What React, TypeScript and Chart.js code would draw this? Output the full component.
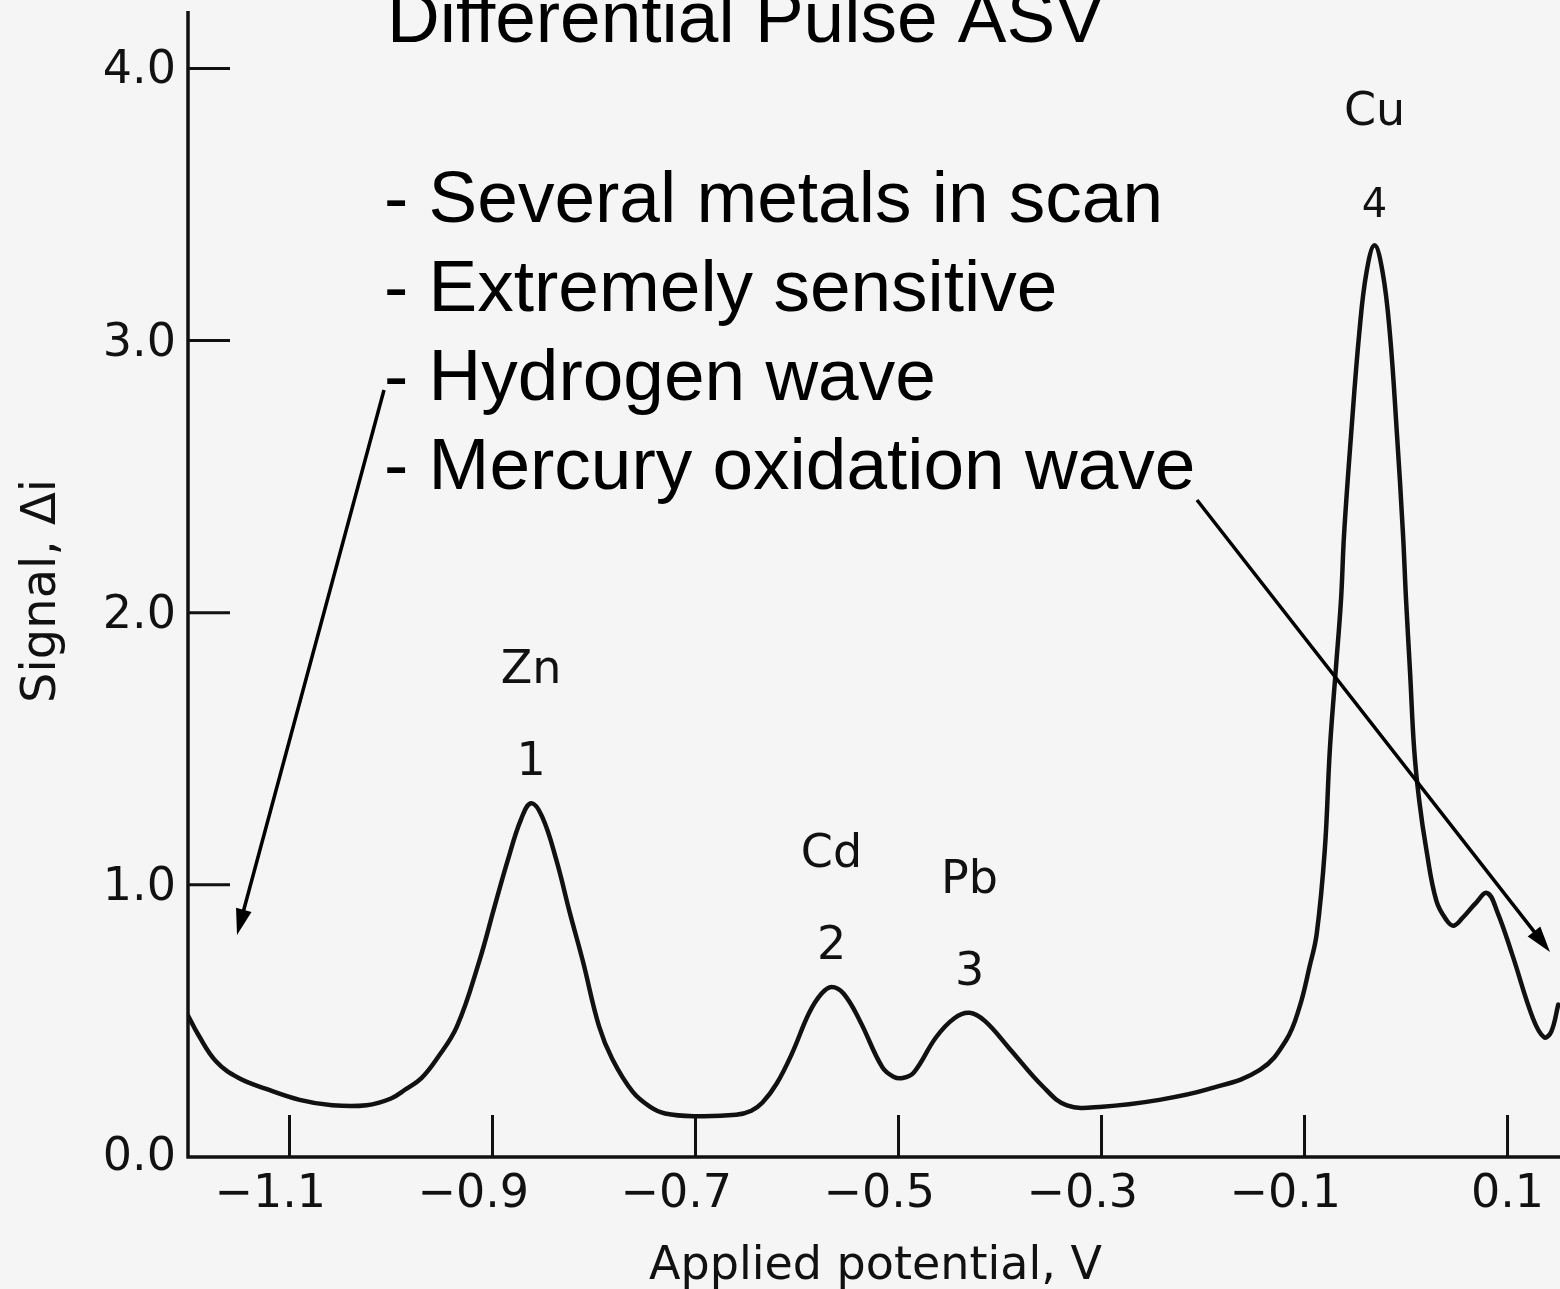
import React, { useEffect, useRef } from "react";
import { Chart, registerables } from "chart.js";

Chart.register(...registerables);

// ---- data ----
const potentials = [
  -1.2, -1.19, -1.172, -1.15, -1.123, -1.09, -1.058, -1.024, -1.0, -0.985,
  -0.97, -0.955, -0.935, -0.913, -0.898, -0.885, -0.872, -0.862, -0.851, -0.837,
  -0.824, -0.811, -0.795, -0.782, -0.762, -0.745, -0.73, -0.7, -0.66, -0.645,
  -0.634, -0.62, -0.605, -0.588, -0.576, -0.566, -0.554, -0.538, -0.516, -0.505,
  -0.496, -0.485, -0.463, -0.445, -0.43, -0.415, -0.391, -0.358, -0.334, -0.299,
  -0.243, -0.194, -0.144, -0.118, -0.105, -0.095, -0.088, -0.08, -0.075, -0.069,
  -0.064, -0.061, -0.054, -0.046, -0.039, -0.031, -0.023, -0.016, -0.009, -0.003,
  0.0, 0.004, 0.008, 0.013, 0.02, 0.03, 0.04, 0.047, 0.056, 0.068,
  0.08, 0.09, 0.105, 0.125, 0.136, 0.143, 0.15,
];
const signals = [
  0.52, 0.45, 0.35, 0.29, 0.25, 0.21, 0.19, 0.19, 0.215, 0.25,
  0.29, 0.36, 0.48, 0.72, 0.92, 1.09, 1.24, 1.3, 1.25, 1.09,
  0.9, 0.72, 0.48, 0.36, 0.24, 0.185, 0.16, 0.15, 0.155, 0.17,
  0.2, 0.27, 0.38, 0.53, 0.6, 0.625, 0.6, 0.5, 0.33, 0.295,
  0.29, 0.31, 0.44, 0.51, 0.53, 0.5, 0.4, 0.26, 0.19, 0.185,
  0.21, 0.25, 0.32, 0.43, 0.55, 0.7, 0.82, 1.13, 1.5, 1.8,
  2.05, 2.29, 2.66, 3.03, 3.25, 3.35, 3.25, 3.03, 2.66, 2.29,
  2.05, 1.78, 1.5, 1.31, 1.13, 0.94, 0.87, 0.85, 0.88, 0.93,
  0.97, 0.9, 0.74, 0.51, 0.44, 0.46, 0.56,
];

const xMin = -1.2;
const xMax = 0.1517;
const yMin = 0;
const yMax = 4.2;

const yTickValues = [1, 2, 3, 4];
const yTickLabels = ["1.0", "2.0", "3.0", "4.0"];
const yZeroLabel = "0.0";
const xTickValues = [-1.1, -0.9, -0.7, -0.5, -0.3, -0.1, 0.1];
const xTickSigns = ["\u2212", "\u2212", "\u2212", "\u2212", "\u2212", "\u2212", ""];
const xTickNumbers = ["1.1", "0.9", "0.7", "0.5", "0.3", "0.1", "0.1"];

const peakNames = ["Zn", "Cd", "Pb", "Cu"];
const peakNumbers = ["1", "2", "3", "4"];
const peakPotentials = [-0.862, -0.566, -0.43, -0.031];
const peakSignals = [1.3, 0.625, 0.53, 3.35];

const xAxisTitle = "Applied potential, V";
const yAxisTitle = "Signal, \u0394i";
const slideTitle = "Differential Pulse ASV";
const bulletLines = [
  "- Several metals in scan",
  "- Extremely sensitive",
  "- Hydrogen wave",
  "- Mercury oxidation wave",
];

const FIG_FONT = '"DejaVu Sans", sans-serif';
const SLIDE_FONT = '"Liberation Sans", Arial, sans-serif';
const INK = "#111111";

function drawArrow(ctx: CanvasRenderingContext2D, x1: number, y1: number, x2: number, y2: number) {
  const ang = Math.atan2(y2 - y1, x2 - x1);
  const headLen = 26;
  const headHalf = 8;
  const bx = x2 - Math.cos(ang) * headLen;
  const by = y2 - Math.sin(ang) * headLen;
  ctx.save();
  ctx.strokeStyle = "#000";
  ctx.fillStyle = "#000";
  ctx.lineWidth = 3.5;
  ctx.beginPath();
  ctx.moveTo(x1, y1);
  ctx.lineTo(bx + Math.cos(ang) * 4, by + Math.sin(ang) * 4);
  ctx.stroke();
  ctx.beginPath();
  ctx.moveTo(x2, y2);
  ctx.lineTo(bx - Math.sin(ang) * headHalf, by + Math.cos(ang) * headHalf);
  ctx.lineTo(bx + Math.sin(ang) * headHalf, by - Math.cos(ang) * headHalf);
  ctx.closePath();
  ctx.fill();
  ctx.restore();
}

const figurePlugin = {
  id: "figurePlugin",
  beforeDraw(chart: any) {
    const ctx = chart.ctx as CanvasRenderingContext2D;
    ctx.save();
    ctx.fillStyle = "#f5f5f5";
    ctx.fillRect(0, 0, chart.width, chart.height);
    ctx.restore();
  },
  beforeDatasetsDraw(chart: any) {
    const ctx = chart.ctx as CanvasRenderingContext2D;
    const xs = chart.scales.x;
    const ys = chart.scales.y;
    const x0 = xs.getPixelForValue(xMin);
    const y0 = ys.getPixelForValue(0);
    ctx.save();
    ctx.strokeStyle = INK;
    ctx.lineCap = "butt";
    // axes
    ctx.lineWidth = 3.5;
    ctx.beginPath();
    ctx.moveTo(x0, ys.getPixelForValue(yMax) - 3);
    ctx.lineTo(x0, y0 + 1.5);
    ctx.moveTo(x0 - 1.5, y0);
    ctx.lineTo(chart.width, y0);
    ctx.stroke();
    // ticks (inward)
    ctx.lineWidth = 3;
    ctx.beginPath();
    yTickValues.forEach((v) => {
      const py = ys.getPixelForValue(v);
      ctx.moveTo(x0, py);
      ctx.lineTo(x0 + 42, py);
    });
    xTickValues.forEach((v) => {
      const px = xs.getPixelForValue(v);
      ctx.moveTo(px, y0);
      ctx.lineTo(px, y0 - 42);
    });
    ctx.stroke();

    // tick labels
    ctx.fillStyle = INK;
    ctx.font = `46px ${FIG_FONT}`;
    ctx.textAlign = "right";
    ctx.textBaseline = "middle";
    yTickValues.forEach((v, i) => {
      ctx.fillText(yTickLabels[i], x0 - 12, ys.getPixelForValue(v) + 3);
    });
    ctx.fillText(yZeroLabel, x0 - 12, y0 + 1);

    ctx.textAlign = "left";
    ctx.textBaseline = "alphabetic";
    xTickValues.forEach((v, i) => {
      const px = xs.getPixelForValue(v);
      const full = xTickSigns[i] + xTickNumbers[i];
      const wNum = ctx.measureText(xTickNumbers[i]).width;
      const wFull = ctx.measureText(full).width;
      const start = px - wNum / 2 - (wFull - wNum);
      ctx.fillText(full, start, y0 + 50);
    });

    // axis titles
    ctx.textAlign = "center";
    ctx.fillText(xAxisTitle, (xs.getPixelForValue(-0.7) + xs.getPixelForValue(-0.3)) / 2 - 23, 1279);
    ctx.save();
    ctx.translate(55, 591);
    ctx.rotate(-Math.PI / 2);
    ctx.font = `48px ${FIG_FONT}`;
    ctx.textAlign = "center";
    ctx.textBaseline = "alphabetic";
    ctx.fillText(yAxisTitle, 0, 0);
    ctx.restore();

    // peak labels
    ctx.textAlign = "center";
    ctx.textBaseline = "alphabetic";
    peakPotentials.forEach((v, i) => {
      const px = xs.getPixelForValue(v);
      const py = ys.getPixelForValue(peakSignals[i]);
      ctx.font = `46px ${FIG_FONT}`;
      ctx.fillText(peakNames[i], px, py - 120);
      ctx.font = `${i === 3 ? 40 : 46}px ${FIG_FONT}`;
      ctx.fillText(peakNumbers[i], px, py - 28);
    });
    ctx.restore();
  },
  afterDraw(chart: any) {
    const ctx = chart.ctx as CanvasRenderingContext2D;
    ctx.save();
    ctx.fillStyle = "#000";
    ctx.textAlign = "left";
    ctx.textBaseline = "alphabetic";
    ctx.font = `73px ${SLIDE_FONT}`;
    ctx.fillText(slideTitle, 387, 42);
    const baselines = [222, 311, 400, 489];
    bulletLines.forEach((t, i) => {
      ctx.fillText(t, 384, baselines[i]);
    });
    ctx.restore();
    drawArrow(ctx, 384, 390, 237, 935);
    drawArrow(ctx, 1197, 500, 1550, 952);
  },
};

export default function App() {
  const canvasRef = useRef<HTMLCanvasElement | null>(null);

  useEffect(() => {
    const canvas = canvasRef.current;
    if (!canvas) return;
    const chart = new Chart(canvas, {
      type: "line",
      data: {
        datasets: [
          {
            data: potentials.map((x, i) => ({ x, y: signals[i] })),
            borderColor: INK,
            borderWidth: 4.5,
            pointRadius: 0,
            fill: false,
            tension: 0.4,
            borderJoinStyle: "round",
            borderCapStyle: "round",
          },
        ],
      },
      options: {
        animation: false,
        responsive: false,
        devicePixelRatio: 1,
        events: [],
        layout: { padding: { left: 188, right: 0, top: 14, bottom: 132 } },
        scales: {
          x: { type: "linear", min: xMin, max: xMax, display: false },
          y: { type: "linear", min: yMin, max: yMax, display: false },
        },
        plugins: {
          legend: { display: false },
          tooltip: { enabled: false },
          title: { display: false },
        },
      },
      plugins: [figurePlugin],
    } as any);
    return () => chart.destroy();
  }, []);

  return (
    <div style={{ position: "fixed", left: 0, top: 0, width: 1560, height: 1289, background: "#f5f5f5" }}>
      <canvas ref={canvasRef} width={1560} height={1289} style={{ display: "block" }} />
    </div>
  );
}
